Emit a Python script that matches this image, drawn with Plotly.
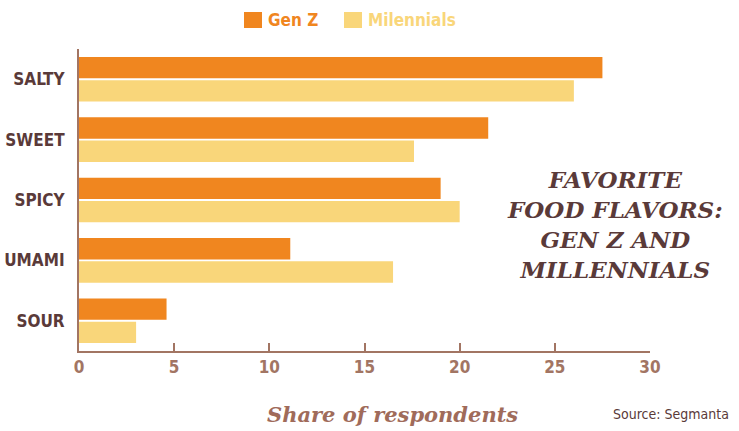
import plotly.graph_objects as go

categories = ["SALTY", "SWEET", "SPICY", "UMAMI", "SOUR"]
gen_z = [27.5, 21.5, 19.0, 11.1, 4.6]
millennials = [26.0, 17.6, 20.0, 16.5, 3.0]
x_ticks = [0, 5, 10, 15, 20, 25, 30]

ORANGE = "#F0861F"
YELLOW = "#F9D67A"
BROWN = "#5A3A39"
AXIS = "#A27563"

fig = go.Figure()
fig.add_trace(go.Bar(y=categories, x=gen_z, orientation="h", name="Gen Z",
                     marker=dict(color=ORANGE, line=dict(width=0)), showlegend=False))
fig.add_trace(go.Bar(y=categories, x=millennials, orientation="h", name="Milennials",
                     marker=dict(color=YELLOW, line=dict(width=0)), showlegend=False))

W, H = 739, 431
L, R, T, B = 79, 89, 49, 80
pw, ph = W - L - R, H - T - B

def px(x):
    return (x - L) / pw

def py(y):
    return (H - B - y) / ph

cond = "'DejaVu Sans Condensed', 'Liberation Sans Narrow', 'Roboto Condensed', 'Arial Narrow', Roboto, sans-serif"

fig.update_layout(
    width=W, height=H,
    margin=dict(l=L, r=R, t=T, b=B),
    paper_bgcolor="white", plot_bgcolor="white",
    barmode="group", bargap=0.23, bargroupgap=0.08,
    xaxis=dict(range=[0, 30], tickvals=x_ticks, ticktext=[str(v) for v in x_ticks],
               showgrid=False, zeroline=False, showline=True, linecolor=AXIS, linewidth=2,
               ticks="inside", ticklen=8, tickwidth=2, tickcolor=AXIS, automargin=False,
               tickfont=dict(family=cond, size=17, color=AXIS, weight="bold"), fixedrange=True),
    yaxis=dict(categoryorder="array", categoryarray=categories, autorange="reversed",
               showgrid=False, zeroline=False, showline=True, linecolor=AXIS, linewidth=2,
               ticks="", ticklabelstandoff=9, automargin=False,
               tickfont=dict(family=cond, size=17, color=BROWN, weight="bold"), fixedrange=True),
    font=dict(family=cond, color=BROWN),
)

annotations = [
    dict(text="<b><i>FAVORITE<br>FOOD FLAVORS:<br>GEN Z AND<br>MILLENNIALS</i></b>",
         x=px(615), y=py(224), xref="paper", yref="paper", showarrow=False,
         xanchor="center", yanchor="middle", align="center",
         font=dict(family="DejaVu Serif", size=23, color=BROWN)),
    dict(text="<b><i>Share of respondents</i></b>", x=px(392), y=py(414), xref="paper", yref="paper",
         showarrow=False, xanchor="center", yanchor="middle",
         font=dict(family="DejaVu Serif", size=21, color="#A06B5A")),
    dict(text="Source: Segmanta", x=px(731), y=py(414), xref="paper", yref="paper",
         showarrow=False, xanchor="right", yanchor="middle",
         font=dict(family=cond, size=14, color=BROWN)),
    dict(text="<b>Gen Z</b>", x=px(266), y=py(20), xref="paper", yref="paper",
         showarrow=False, xanchor="left", yanchor="middle",
         font=dict(family=cond, size=17, color=ORANGE)),
    dict(text="<b>Milennials</b>", x=px(366), y=py(20), xref="paper", yref="paper",
         showarrow=False, xanchor="left", yanchor="middle",
         font=dict(family=cond, size=17, color=YELLOW)),
]
shapes = [
    dict(type="rect", xref="paper", yref="paper", x0=px(244), x1=px(262), y0=py(28), y1=py(12),
         fillcolor=ORANGE, line=dict(width=0)),
    dict(type="rect", xref="paper", yref="paper", x0=px(344), x1=px(362), y0=py(28), y1=py(12),
         fillcolor=YELLOW, line=dict(width=0)),
]
fig.update_layout(annotations=annotations, shapes=shapes)

fig.write_html("out.html", config={"displayModeBar": False})
